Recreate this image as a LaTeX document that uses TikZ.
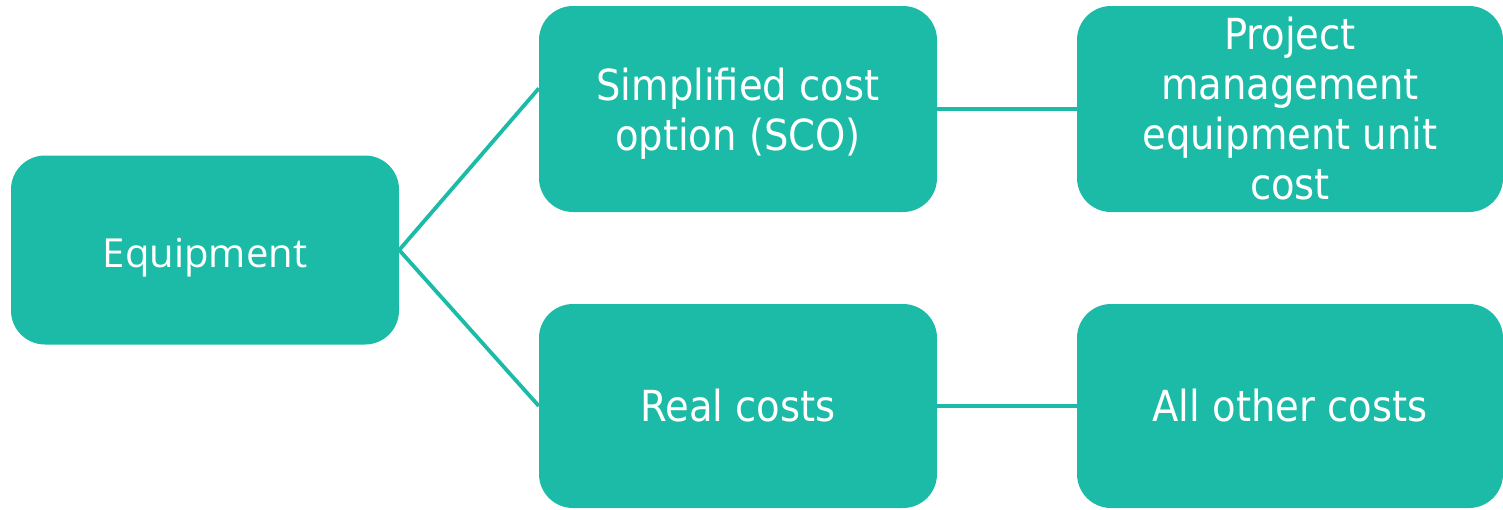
\documentclass[tikz,border=0pt]{standalone}
\usepackage{fontspec}
\setmainfont{DejaVu Sans Condensed}
\newfontfamily\eqfont{Open Sans}
\usetikzlibrary{calc}
\definecolor{teal1}{RGB}{27,187,167}
% stacked lines of a label, lowered by #1 without changing the box size
\newcommand\stacklbl[2]{\raisebox{-#1}[\height][\depth]{\begin{tabular}{@{}c@{}}#2\end{tabular}}}
\newcommand\lowerlbl[2]{\raisebox{-#1}[\height][\depth]{#2}}
\tikzset{
  box/.style={rectangle, rounded corners=34pt, fill=teal1, draw=none,
    text=white, align=center, inner sep=0pt,
    font=\fontsize{42.8pt}{50pt}\selectfont},
  link/.style={draw=teal1, line width=3.8pt}
}
\begin{document}
\begin{tikzpicture}[x=1pt,y=-1pt]
  \useasboundingbox (0,0) rectangle (1503,509);
  % tree of nodes
  \node[box, minimum width=388pt, minimum height=189pt,
        font=\eqfont\fontsize{40pt}{48pt}\selectfont] (eq) at (205,250)
        {\lowerlbl{7.5pt}{Equipment}};
  \node[box, minimum width=398pt, minimum height=206pt] (sco) at (738,109)
        {\stacklbl{6pt}{Simplified cost\\option (SCO)}};
  \node[box, minimum width=398pt, minimum height=204pt] (real) at (738,406)
        {Real costs};
  \node[box, minimum width=426pt, minimum height=206pt] (pm) at (1290,109)
        {\stacklbl{5pt}{Project\\management\\equipment unit\\cost}};
  \node[box, minimum width=426pt, minimum height=204pt] (oth) at (1290,406)
        {All other costs};
  % connectors
  \draw[link] ($(sco.west)!0.2!(sco.north west)$) -- (eq.east) -- (real.west);
  \draw[link] (sco.east) -- (pm.west);
  \draw[link] (real.east) -- (oth.west);
\end{tikzpicture}
\end{document}
